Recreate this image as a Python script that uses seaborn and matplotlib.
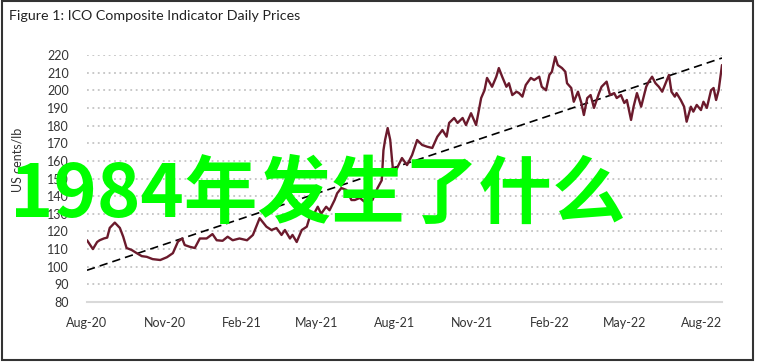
import matplotlib
matplotlib.use("Agg")
import matplotlib.pyplot as plt
import matplotlib.dates as mdates
from matplotlib.patches import Rectangle
import pandas as pd
import seaborn as sns

# ---- data ----
dates = [
    "2020-08-01", "2020-08-08", "2020-08-13", "2020-08-16", "2020-08-21", "2020-08-25",
    "2020-08-28", "2020-09-03", "2020-09-09", "2020-09-13", "2020-09-17", "2020-09-23",
    "2020-09-29", "2020-10-05", "2020-10-11", "2020-10-18", "2020-10-27", "2020-11-04",
    "2020-11-11", "2020-11-17", "2020-11-22", "2020-11-25", "2020-12-01", "2020-12-07",
    "2020-12-13", "2020-12-21", "2020-12-28", "2021-01-02", "2021-01-09", "2021-01-15",
    "2021-01-21", "2021-01-29", "2021-02-07", "2021-02-14", "2021-02-22", "2021-03-02",
    "2021-03-08", "2021-03-14", "2021-03-20", "2021-03-24", "2021-03-30", "2021-04-02",
    "2021-04-07", "2021-04-13", "2021-04-19", "2021-04-22", "2021-04-28", "2021-05-02",
    "2021-05-06", "2021-05-12", "2021-05-16", "2021-05-22", "2021-05-25", "2021-05-30",
    "2021-06-05", "2021-06-11", "2021-06-15", "2021-06-21", "2021-06-26", "2021-07-02",
    "2021-07-06", "2021-07-12", "2021-07-17", "2021-07-19", "2021-07-21", "2021-07-24",
    "2021-07-27", "2021-07-30", "2021-08-03", "2021-08-10", "2021-08-16", "2021-08-22",
    "2021-08-28", "2021-09-03", "2021-09-09", "2021-09-15", "2021-09-21", "2021-09-27",
    "2021-10-02", "2021-10-05", "2021-10-11", "2021-10-15", "2021-10-21", "2021-10-25",
    "2021-10-31", "2021-11-06", "2021-11-12", "2021-11-16", "2021-11-19", "2021-11-25",
    "2021-11-30", "2021-12-03", "2021-12-07", "2021-12-12", "2021-12-15", "2021-12-19",
    "2021-12-24", "2021-12-27", "2021-12-31", "2022-01-04", "2022-01-10", "2022-01-14",
    "2022-01-20", "2022-01-23", "2022-01-28", "2022-02-01", "2022-02-04", "2022-02-08",
    "2022-02-11", "2022-02-16", "2022-02-20", "2022-02-22", "2022-02-27", "2022-03-02",
    "2022-03-07", "2022-03-11", "2022-03-14", "2022-03-18", "2022-03-22", "2022-03-26",
    "2022-04-01", "2022-04-04", "2022-04-10", "2022-04-14", "2022-04-19", "2022-04-22",
    "2022-04-27", "2022-05-01", "2022-05-04", "2022-05-09", "2022-05-12", "2022-05-16",
    "2022-05-21", "2022-05-27", "2022-05-30", "2022-06-03", "2022-06-07", "2022-06-11",
    "2022-06-15", "2022-06-19", "2022-06-23", "2022-06-26", "2022-06-30", "2022-07-02",
    "2022-07-07", "2022-07-11", "2022-07-14", "2022-07-19", "2022-07-22", "2022-07-26",
    "2022-07-31", "2022-08-03", "2022-08-07", "2022-08-12", "2022-08-15", "2022-08-18",
    "2022-08-21", "2022-08-25",
]
prices = [
    115.0, 110.0, 114.0, 115.0, 116.0, 116.5,
    122.0, 125.0, 122.0, 117.0, 110.6, 109.5,
    107.7, 106.0, 105.6, 104.3, 103.8, 105.4,
    107.7, 114.2, 116.0, 112.3, 111.3, 110.6,
    116.0, 116.0, 118.5, 115.0, 114.7, 117.0,
    115.0, 116.0, 115.0, 118.0, 127.5, 122.7,
    120.8, 121.9, 118.0, 120.8, 116.0, 118.0,
    114.0, 120.8, 122.7, 127.5, 130.4, 134.0,
    130.0, 134.0, 132.0, 137.8, 141.6, 144.6,
    143.5, 137.8, 137.8, 139.0, 137.0, 140.6,
    137.8, 144.6, 149.0, 166.0, 172.0, 178.6,
    172.0, 156.5, 154.8, 161.6, 157.6, 163.3,
    171.8, 169.0, 168.0, 167.3, 173.7, 177.5,
    173.7, 181.5, 184.3, 181.5, 184.3, 180.3,
    187.0, 180.3, 195.6, 200.0, 207.0, 202.0,
    207.7, 212.6, 207.7, 202.0, 204.0, 197.3,
    199.2, 198.4, 196.4, 203.0, 207.0, 205.8,
    207.7, 202.0, 200.0, 208.7, 210.5, 219.0,
    214.3, 212.6, 210.5, 204.0, 201.3, 193.5,
    199.2, 192.8, 186.0, 195.6, 197.3, 190.0,
    198.4, 202.0, 204.9, 197.3, 198.4, 195.6,
    197.3, 192.8, 194.5, 183.2, 190.7, 198.4,
    190.7, 202.0, 204.9, 207.7, 204.0, 202.0,
    199.2, 204.0, 208.7, 199.2, 196.4, 198.4,
    194.5, 190.7, 182.2, 190.7, 187.9, 191.7,
    188.8, 193.5, 190.0, 200.0, 201.3, 194.5,
    200.0, 214.3,
]
trend_dates = ["2020-08-01", "2022-08-25"]
trend_values = [98.0, 218.3]

tick_dates = ["2020-08-01", "2020-11-01", "2021-02-01", "2021-05-01", "2021-08-01",
              "2021-11-01", "2022-02-01", "2022-05-01", "2022-08-01"]
y_ticks = [80, 90, 100, 110, 120, 130, 140, 150, 160, 170, 180, 190, 200, 210, 220]

title = "Figure 1: ICO Composite Indicator Daily Prices"
y_label = "US cents/lb"
watermark = "1984年发生了什么"

# ---- build ----
df = pd.DataFrame({"date": pd.to_datetime(dates), "price": prices})
trend = pd.DataFrame({"date": pd.to_datetime(trend_dates), "value": trend_values})

sns.set_theme(style="white")
plt.rcParams["font.family"] = ["Lato", "DejaVu Sans"]

fig = plt.figure(figsize=(7.57, 3.64), dpi=100)
W, H = 757, 364
ax = fig.add_axes([87 / W, 1 - 302 / H, (722 - 87) / W, (302 - 55) / H])

for v in y_ticks[1:]:
    ax.axhline(v, color="#c4c4c4", lw=1.3, ls=(0, (1, 2)), zorder=0)

sns.lineplot(data=trend, x="date", y="value", ax=ax, color="black",
             lw=1.2, zorder=2)
ax.lines[-1].set_dashes((5, 3))
sns.lineplot(data=df, x="date", y="price", ax=ax, color="#6B1A2C",
             lw=1.7, zorder=3)

ax.set_ylim(80, 220)
ax.set_xlim(pd.Timestamp("2020-08-01"), pd.Timestamp("2022-08-25"))
ax.set_yticks(y_ticks)
ax.set_xticks(pd.to_datetime(tick_dates))
ax.xaxis.set_major_formatter(mdates.DateFormatter("%b-%y"))
ax.tick_params(axis="both", length=0, labelsize=9, labelcolor="#333333")
ax.tick_params(axis="y", pad=13)
ax.tick_params(axis="x", pad=11)
ax.set_xlabel("")
ax.set_ylabel("")
for s in ["top", "right", "left"]:
    ax.spines[s].set_visible(False)
ax.spines["bottom"].set_color("#d9d9d9")
ax.spines["bottom"].set_linewidth(1.5)
ax.set_facecolor("none")

fig.text(9 / W, 1 - 16 / H, title, fontsize=10.3, color="#222222",
         ha="left", va="center")
fig.text(17 / W, 1 - 160 / H, y_label, fontsize=9, color="#333333",
         rotation=90, ha="center", va="center")

fig.text(10 / W, 1 - 196 / H, watermark, fontsize=53, color="#00FF00",
         family=["Noto Sans CJK SC", "DejaVu Sans"], weight="bold",
         ha="left", va="center", zorder=10)

fig.patches.append(Rectangle((2 / W, 4 / H), 751 / W, 359 / H,
                             transform=fig.transFigure, fill=False,
                             edgecolor="#333333", lw=1.5))

fig.savefig("out.png", dpi=100)
